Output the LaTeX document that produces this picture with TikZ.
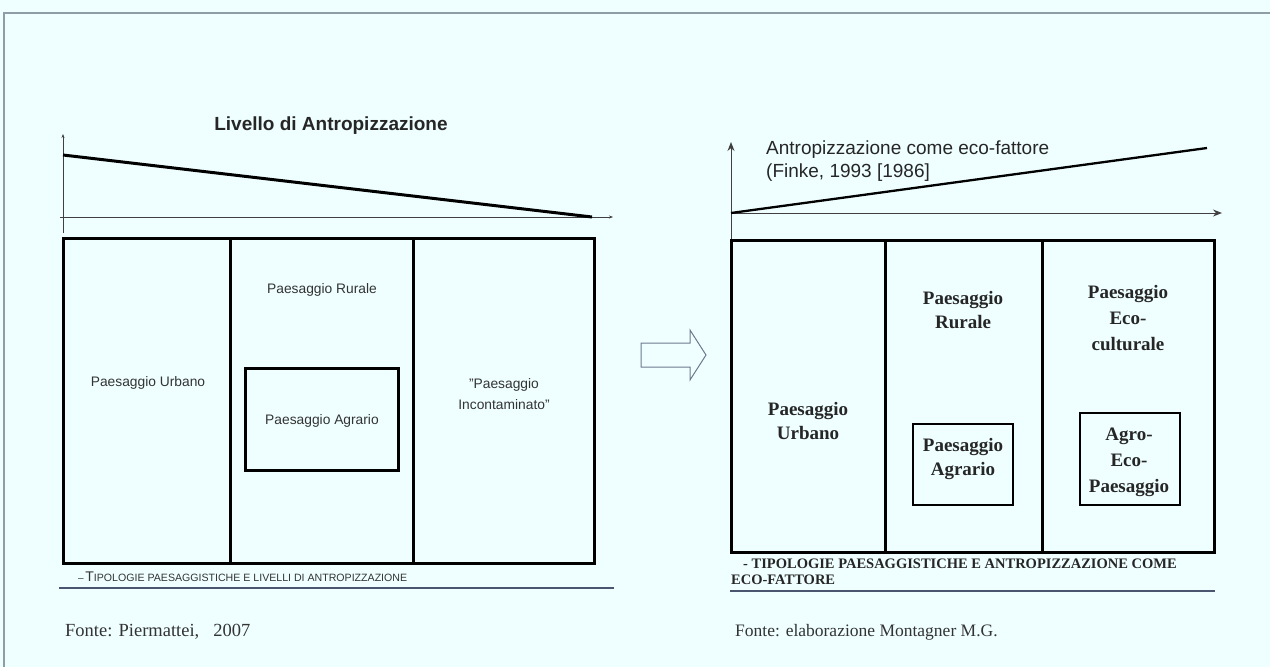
\documentclass[tikz,border=0pt]{standalone}
\usepackage{fontspec}
\setmainfont{Liberation Serif}
\setsansfont{Liberation Sans}
\usetikzlibrary{arrows.meta}
\definecolor{bgc}{HTML}{EFFFFF}
\definecolor{framec}{HTML}{8E9EA6}
\definecolor{rulec}{HTML}{4A5670}
\definecolor{arrc}{HTML}{6A7A8C}
\begin{document}
\begin{tikzpicture}[x=1pt,y=-1pt,
  cell/.style={draw=black, line width=3pt, anchor=north west, inner sep=0pt, outer sep=0pt},
  axisline/.style={draw=black!75, line width=1pt},
  trend/.style={draw=black, line width=3pt},
  lsans/.style={font=\sffamily\fontsize{13.8}{21}\selectfont, text=black!80, align=center},
  rserif/.style={font=\rmfamily\bfseries\fontsize{19}{24}\selectfont, text=black!85, align=center},
  rserifc/.style={font=\rmfamily\bfseries\fontsize{19}{26}\selectfont, text=black!85, align=center},
  fonte/.style={font=\rmfamily\fontsize{17.5}{20}\selectfont, text=black!80, anchor=west, inner sep=0pt},
  uline/.style={draw=rulec, line width=1.4pt}]
\useasboundingbox (0,0) rectangle (1270,667);
\fill[bgc] (0,0) rectangle (1270,667);
\draw[framec, line width=2pt] (4,667) -- (4,13) -- (1270,13);

% ---------------- left diagram ----------------
\coordinate (lYb) at (63,233);
\coordinate (lYt) at (63,134);
\coordinate (lXa) at (60,217);
\coordinate (lXb) at (613,217);
\coordinate (lTa) at (63,155);
\coordinate (lTb) at (592,217);
\draw[axisline,-{Stealth[length=4pt,width=3pt]}] (lYb) -- (lYt);
\draw[axisline,-{Stealth[length=4pt,width=3pt]}] (lXa) -- (lXb);
\draw[trend] (lTa) -- (lTb);
\node[font=\sffamily\bfseries\fontsize{19}{22}\selectfont, text=black!85] (ltitle) at (331,126) {Livello di Antropizzazione};

\node[cell, minimum width=167pt, minimum height=325pt] (lc1) at (63,238) {};
\node[cell, minimum width=183pt, minimum height=325pt] (lc2) at (230,238) {};
\node[cell, minimum width=181pt, minimum height=325pt] (lc3) at (413,238) {};
\node[cell, minimum width=153pt, minimum height=102pt] (lin) at (245,368) {};

\node[lsans] (lurb) at (148,383) {Paesaggio Urbano};
\node[lsans] (lrur) at (322,290) {Paesaggio Rurale};
\node[lsans] (lagr) at (322,421) {Paesaggio Agrario};
\node[lsans] (linc) at (504,394) {\symbol{34}Paesaggio\\Incontaminato\symbol{34}};

\node[font=\sffamily, text=black!80, anchor=west, inner sep=0pt] (lcap) at (78,577)
  {–\,{\fontsize{14}{14}\selectfont T}{\fontsize{10.6}{12}\selectfont IPOLOGIE PAESAGGISTICHE E LIVELLI DI ANTROPIZZAZIONE}};
\coordinate (lUa) at (59,588);
\coordinate (lUb) at (614,588);
\draw[uline] (lUa) -- (lUb);
\node[fonte, font=\rmfamily\fontsize{18.5}{20}\selectfont] (lfonte) at (65,632) {Fonte: Piermattei,\hspace{14pt}2007};

% ---------------- block arrow ----------------
\draw[arrc, line width=1pt, fill=bgc] (641,343) -- (690,343) -- (690,330) -- (706,355) -- (690,380) -- (690,367) -- (641,367) -- cycle;

% ---------------- right diagram ----------------
\coordinate (rYb) at (731,240);
\coordinate (rYt) at (731,142);
\coordinate (rXa) at (731,213);
\coordinate (rXb) at (1222,213);
\coordinate (rTa) at (731,213);
\coordinate (rTb) at (1207,148);
\draw[axisline,-{Stealth[length=9pt,width=7pt]}] (rYb) -- (rYt);
\draw[axisline,-{Stealth[length=9pt,width=7pt]}] (rXa) -- (rXb);
\draw[trend, line width=2.3pt] (rTa) -- (rTb);
\node[font=\sffamily\fontsize{19}{23}\selectfont, text=black!85, anchor=north west, align=left, inner sep=0pt] (rtitle) at (766,141)
  {Antropizzazione come eco-fattore\\(Finke, 1993 [1986]};

\node[cell, minimum width=154pt, minimum height=312pt] (rc1) at (731,240) {};
\node[cell, minimum width=157pt, minimum height=312pt] (rc2) at (885,240) {};
\node[cell, minimum width=172pt, minimum height=312pt] (rc3) at (1042,240) {};
\node[cell, line width=2.5pt, minimum width=100pt, minimum height=81pt] (rin1) at (913,424) {};
\node[cell, line width=2.5pt, minimum width=100pt, minimum height=92pt] (rin2) at (1080,413) {};

\node[rserif] (rurb) at (808,421) {Paesaggio\\Urbano};
\node[rserif] (rrur) at (963,310) {Paesaggio\\Rurale};
\node[rserifc] (reco) at (1128,318) {Paesaggio\\Eco-\\culturale};
\node[rserif] (ragr) at (963,459) {Paesaggio\\Agrario};
\node[rserifc] (rage) at (1129,462) {Agro-\\Eco-\\Paesaggio};

\node[font=\rmfamily\bfseries\fontsize{14.5}{16}\selectfont, text=black!85, anchor=north west, align=left, inner sep=0pt] (rcap) at (731,559)
  {\hspace*{12pt}- TIPOLOGIE PAESAGGISTICHE E ANTROPIZZAZIONE COME\\ECO-FATTORE};
\coordinate (rUa) at (730,591);
\coordinate (rUb) at (1215,591);
\draw[uline] (rUa) -- (rUb);
\node[fonte] (rfonte) at (735,632) {Fonte: elaborazione Montagner M.G.};
\end{tikzpicture}
\end{document}
